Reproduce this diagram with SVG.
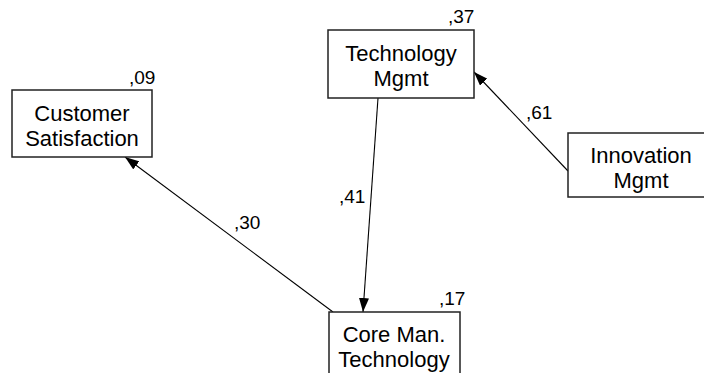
<svg xmlns="http://www.w3.org/2000/svg" width="704" height="373" viewBox="0 0 704 373">
<defs>
<style>
.box{fill:#fff;stroke:#222;stroke-width:1.5}
.t{font-family:"Liberation Sans",Arial,sans-serif;font-size:22px;fill:#000;text-anchor:middle}
.l{font-family:"Liberation Sans",Arial,sans-serif;font-size:19px;fill:#000}
.e{stroke:#000;stroke-width:1.1;fill:none;marker-end:url(#ah)}
</style>
<marker id="ah" viewBox="0 0 14 10" refX="14" refY="5" markerWidth="14" markerHeight="10" markerUnits="userSpaceOnUse" orient="auto">
<path d="M0,0 L14,5 L0,10 Z" fill="#000"/>
</marker>
</defs>
<rect width="704" height="373" fill="#fff"/>
<g id="connectors">
<line class="e" x1="378" y1="98" x2="363" y2="312"/>
<line class="e" x1="333" y1="312" x2="125" y2="157"/>
<line class="e" x1="568" y1="171" x2="474" y2="72"/>
</g>
<g id="labels">
<text class="l" x="129" y="84">,09</text>
<text class="l" x="448" y="23">,37</text>
<text class="l" x="526" y="119">,61</text>
<text class="l" x="339" y="203">,41</text>
<text class="l" x="234" y="229">,30</text>
<text class="l" x="439" y="305">,17</text>
</g>
<g id="customer-satisfaction">
<rect class="box" x="12" y="90" width="140" height="67"/>
<text class="t" x="82" y="121">Customer</text>
<text class="t" x="82" y="146">Satisfaction</text>
</g>
<g id="technology-mgmt">
<rect class="box" x="328" y="30" width="146" height="68"/>
<text class="t" x="401" y="61">Technology</text>
<text class="t" x="401" y="86">Mgmt</text>
</g>
<g id="innovation-mgmt">
<rect class="box" x="568" y="133" width="146" height="64"/>
<text class="t" x="641" y="163">Innovation</text>
<text class="t" x="641" y="188">Mgmt</text>
</g>
<g id="core-man-technology">
<rect class="box" x="329" y="312" width="131" height="70"/>
<text class="t" x="394" y="342">Core Man.</text>
<text class="t" x="394" y="367">Technology</text>
</g>
</svg>
